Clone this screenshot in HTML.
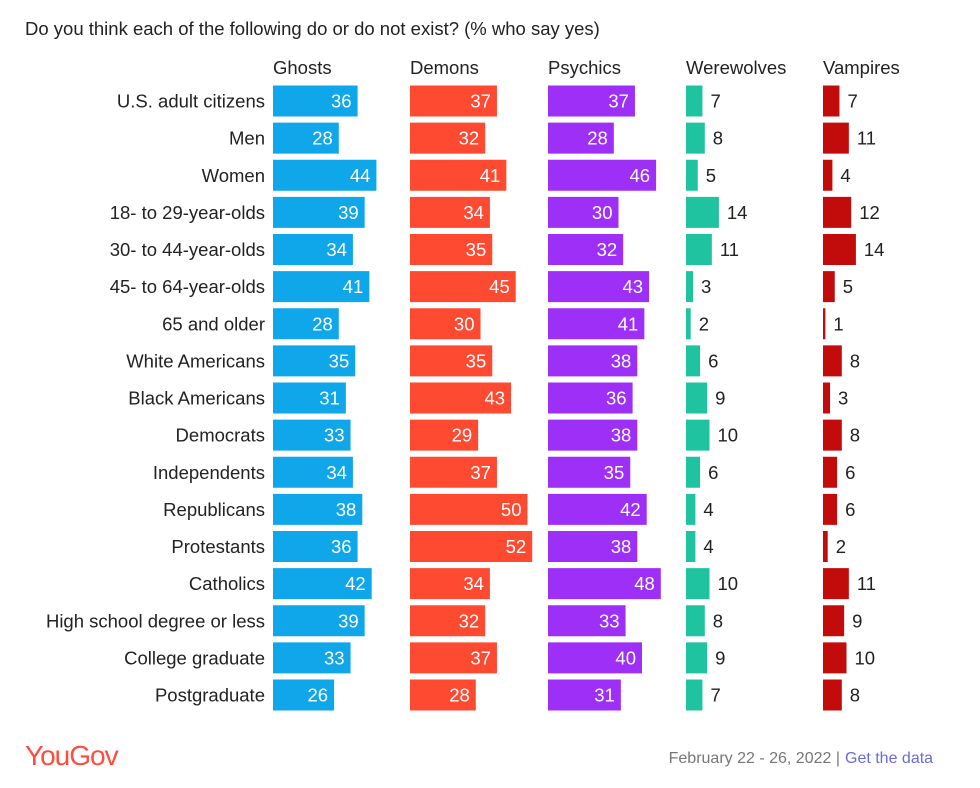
<!DOCTYPE html>
<html><head><meta charset="utf-8"><style>
body{margin:0;width:980px;height:783px;background:#fff;font-family:"Liberation Sans",sans-serif;overflow:hidden}
</style></head><body>
<svg id="c" width="980" height="783" xmlns="http://www.w3.org/2000/svg">
<text x="25" y="35" font-size="18.5" fill="#222">Do you think each of the following do or do not exist? (% who say yes)</text>
<text x="25" y="765" font-size="28" fill="#ff4d3d" letter-spacing="-1">YouGov</text>
<text x="840" y="763" font-size="16" fill="#777" text-anchor="end">February 22 - 26, 2022 |</text>
<text x="845" y="763" font-size="16" fill="#6b6bdc">Get the data</text>
</svg>
<script>
const categories=["U.S. adult citizens","Men","Women","18- to 29-year-olds","30- to 44-year-olds","45- to 64-year-olds","65 and older","White Americans","Black Americans","Democrats","Independents","Republicans","Protestants","Catholics","High school degree or less","College graduate","Postgraduate"];
const seriesNames=["Ghosts","Demons","Psychics","Werewolves","Vampires"];
const ghosts=[36,28,44,39,34,41,28,35,31,33,34,38,36,42,39,33,26];
const demons=[37,32,41,34,35,45,30,35,43,29,37,50,52,34,32,37,28];
const psychics=[37,28,46,30,32,43,41,38,36,38,35,42,38,48,33,40,31];
const werewolves=[7,8,5,14,11,3,2,6,9,10,6,4,4,10,8,9,7];
const vampires=[7,11,4,12,14,5,1,8,3,8,6,6,2,11,9,10,8];
const series=[ghosts,demons,psychics,werewolves,vampires];
const colors=["#0fa6ea","#ff4a32","#9d2ff7","#1fc3a0","#c20b0b"];
const colX=[273,410,548,686,823];
const svg=document.getElementById('c');
const NS="http://www.w3.org/2000/svg";
const xs=v=>v*2.35;
const ys=i=>101+i*37.125;
function mk(t,a){const e=document.createElementNS(NS,t);for(const k in a)e.setAttribute(k,a[k]);svg.appendChild(e);return e;}
seriesNames.forEach((n,s)=>{
  const t=mk('text',{x:colX[s],y:74,'font-size':18.5,fill:'#222'});t.textContent=n;
  
  
});
categories.forEach((c,i)=>{
  const y=ys(i);
  const t=mk('text',{x:265,y:y+6.5,'font-size':18.5,fill:'#222','text-anchor':'end'});t.textContent=c;
  
  
  series.forEach((arr,s)=>{
    const v=arr[i],w=xs(v);
    const r=mk('rect',{x:colX[s],y:y-15.5,width:w,height:31,fill:colors[s]});
    
    
    const inside=s<3;
    const l=mk('text',{x:inside?colX[s]+w-6:colX[s]+w+8,y:y+6.5,'font-size':18.5,fill:inside?'#fff':'#222','text-anchor':inside?'end':'start'});
    l.textContent=v;
    
    
  });
});
</script>
</body></html>
